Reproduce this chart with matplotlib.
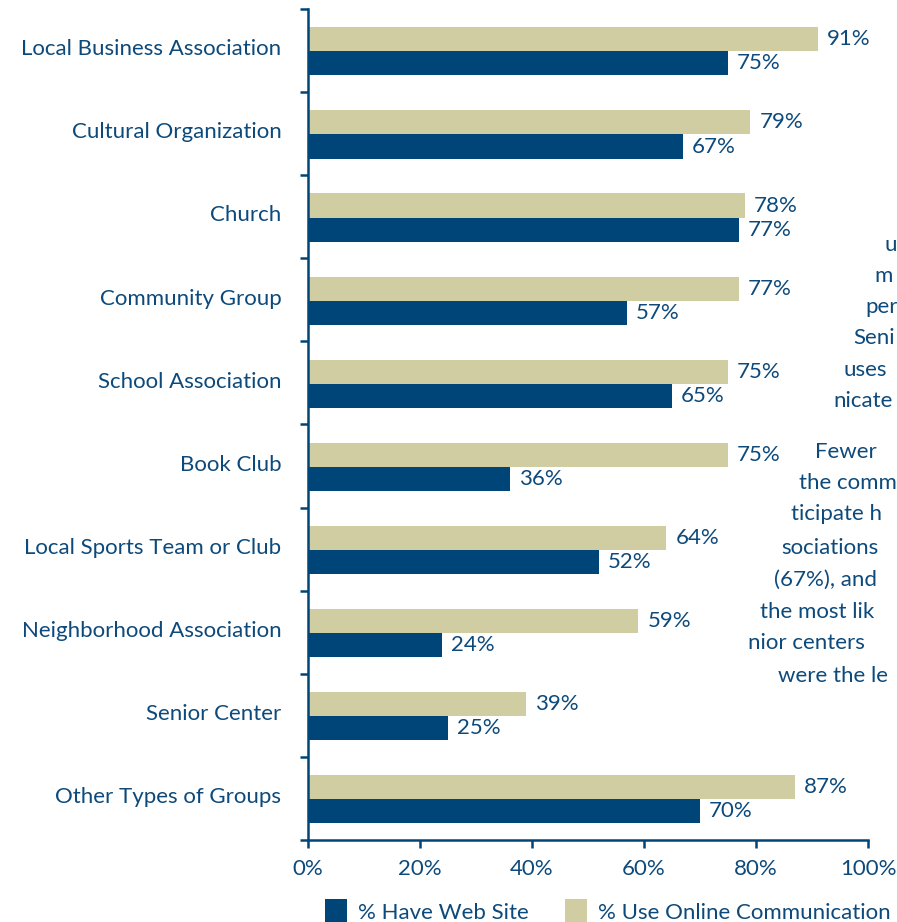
import matplotlib
matplotlib.use("Agg")
import matplotlib.pyplot as plt
import numpy as np

categories = ["Local Business Association", "Cultural Organization", "Church",
              "Community Group", "School Association", "Book Club",
              "Local Sports Team or Club", "Neighborhood Association",
              "Senior Center", "Other Types of Groups"]
have_web_site = [75, 67, 77, 57, 65, 36, 52, 24, 25, 70]
use_online = [91, 79, 78, 77, 75, 75, 64, 59, 39, 87]
x_ticks = [0, 20, 40, 60, 80, 100]
x_tick_labels = ["0%", "20%", "40%", "60%", "80%", "100%"]
series_names = ["% Have Web Site", "% Use Online Communication"]

# visible fragments of the (cropped) paragraph at the right edge
side_lines = ["u", "m", "per", "Seni", "uses", "nicate",
              "Fewer", "the comm", "ticipate h", "sociations", "(67%), and",
              "the most lik", "nior centers", "were the le"]
side_x = [884, 874, 865, 853, 843, 833, 815, 799, 791, 781, 774, 760, 748, 778]
side_y = [245, 276, 307, 338, 370, 401, 452, 483, 514, 548, 580, 612, 643, 676]

NAVY = "#004577"
BEIGE = "#d0cda2"
TXT = "#0d4a7b"
FONT = ["Lato", "DejaVu Sans"]
FS = 16
plt.rcParams["font.family"] = FONT

W, H = 897, 922
fig = plt.figure(figsize=(W / 100, H / 100), dpi=100)
ax = fig.add_axes([308 / W, 1 - 840 / H, 560 / W, 831 / H])

y = np.arange(len(categories))
bh = 0.29
ax.barh(y - bh / 2 + 0.01, use_online, height=bh, color=BEIGE, label=series_names[1])
ax.barh(y + bh / 2 + 0.01, have_web_site, height=bh, color=NAVY, label=series_names[0])

for yi, v in zip(y, use_online):
    ax.text(v + 1.6, yi - bh / 2 + 0.01, f"{v}%", va="center", ha="left",
            color=TXT, fontsize=FS)
for yi, v in zip(y, have_web_site):
    ax.text(v + 1.6, yi + bh / 2 + 0.01, f"{v}%", va="center", ha="left",
            color=TXT, fontsize=FS)

ax.set_xlim(0, 100)
ax.set_ylim(len(categories) - 0.5, -0.5)
ax.set_xticks(x_ticks)
ax.set_xticklabels(x_tick_labels, fontsize=FS, color=TXT)
ax.set_yticks(y - 0.04)
ax.set_yticklabels([c + " " for c in categories], fontsize=FS, color=TXT)
ax.tick_params(axis="y", which="major", length=0, pad=15)
ax.set_yticks(np.arange(-0.5, len(categories) + 0.5, 1), minor=True)
ax.tick_params(axis="y", which="minor", length=6, width=1.8, color=NAVY)
ax.tick_params(axis="x", which="major", length=6, width=1.8, color=NAVY, pad=8)
for s in ["top", "right"]:
    ax.spines[s].set_visible(False)
for s in ["left", "bottom"]:
    ax.spines[s].set_color(NAVY)
    ax.spines[s].set_linewidth(1.8)

for txt, xx, yy in zip(side_lines, side_x, side_y):
    fig.text(xx / W, 1 - yy / H, txt, ha="left", va="center", color=TXT, fontsize=FS)

handles, labels = ax.get_legend_handles_labels()
leg = fig.legend(handles[::-1], labels[::-1], ncol=2, frameon=False,
                 loc="upper left", bbox_to_anchor=(305 / W, 1 - 879 / H),
                 fontsize=FS, handlelength=1.0, handleheight=1.3,
                 columnspacing=1.6, handletextpad=0.5)
for t in leg.get_texts():
    t.set_color(TXT)

fig.savefig("out.png", dpi=100)
